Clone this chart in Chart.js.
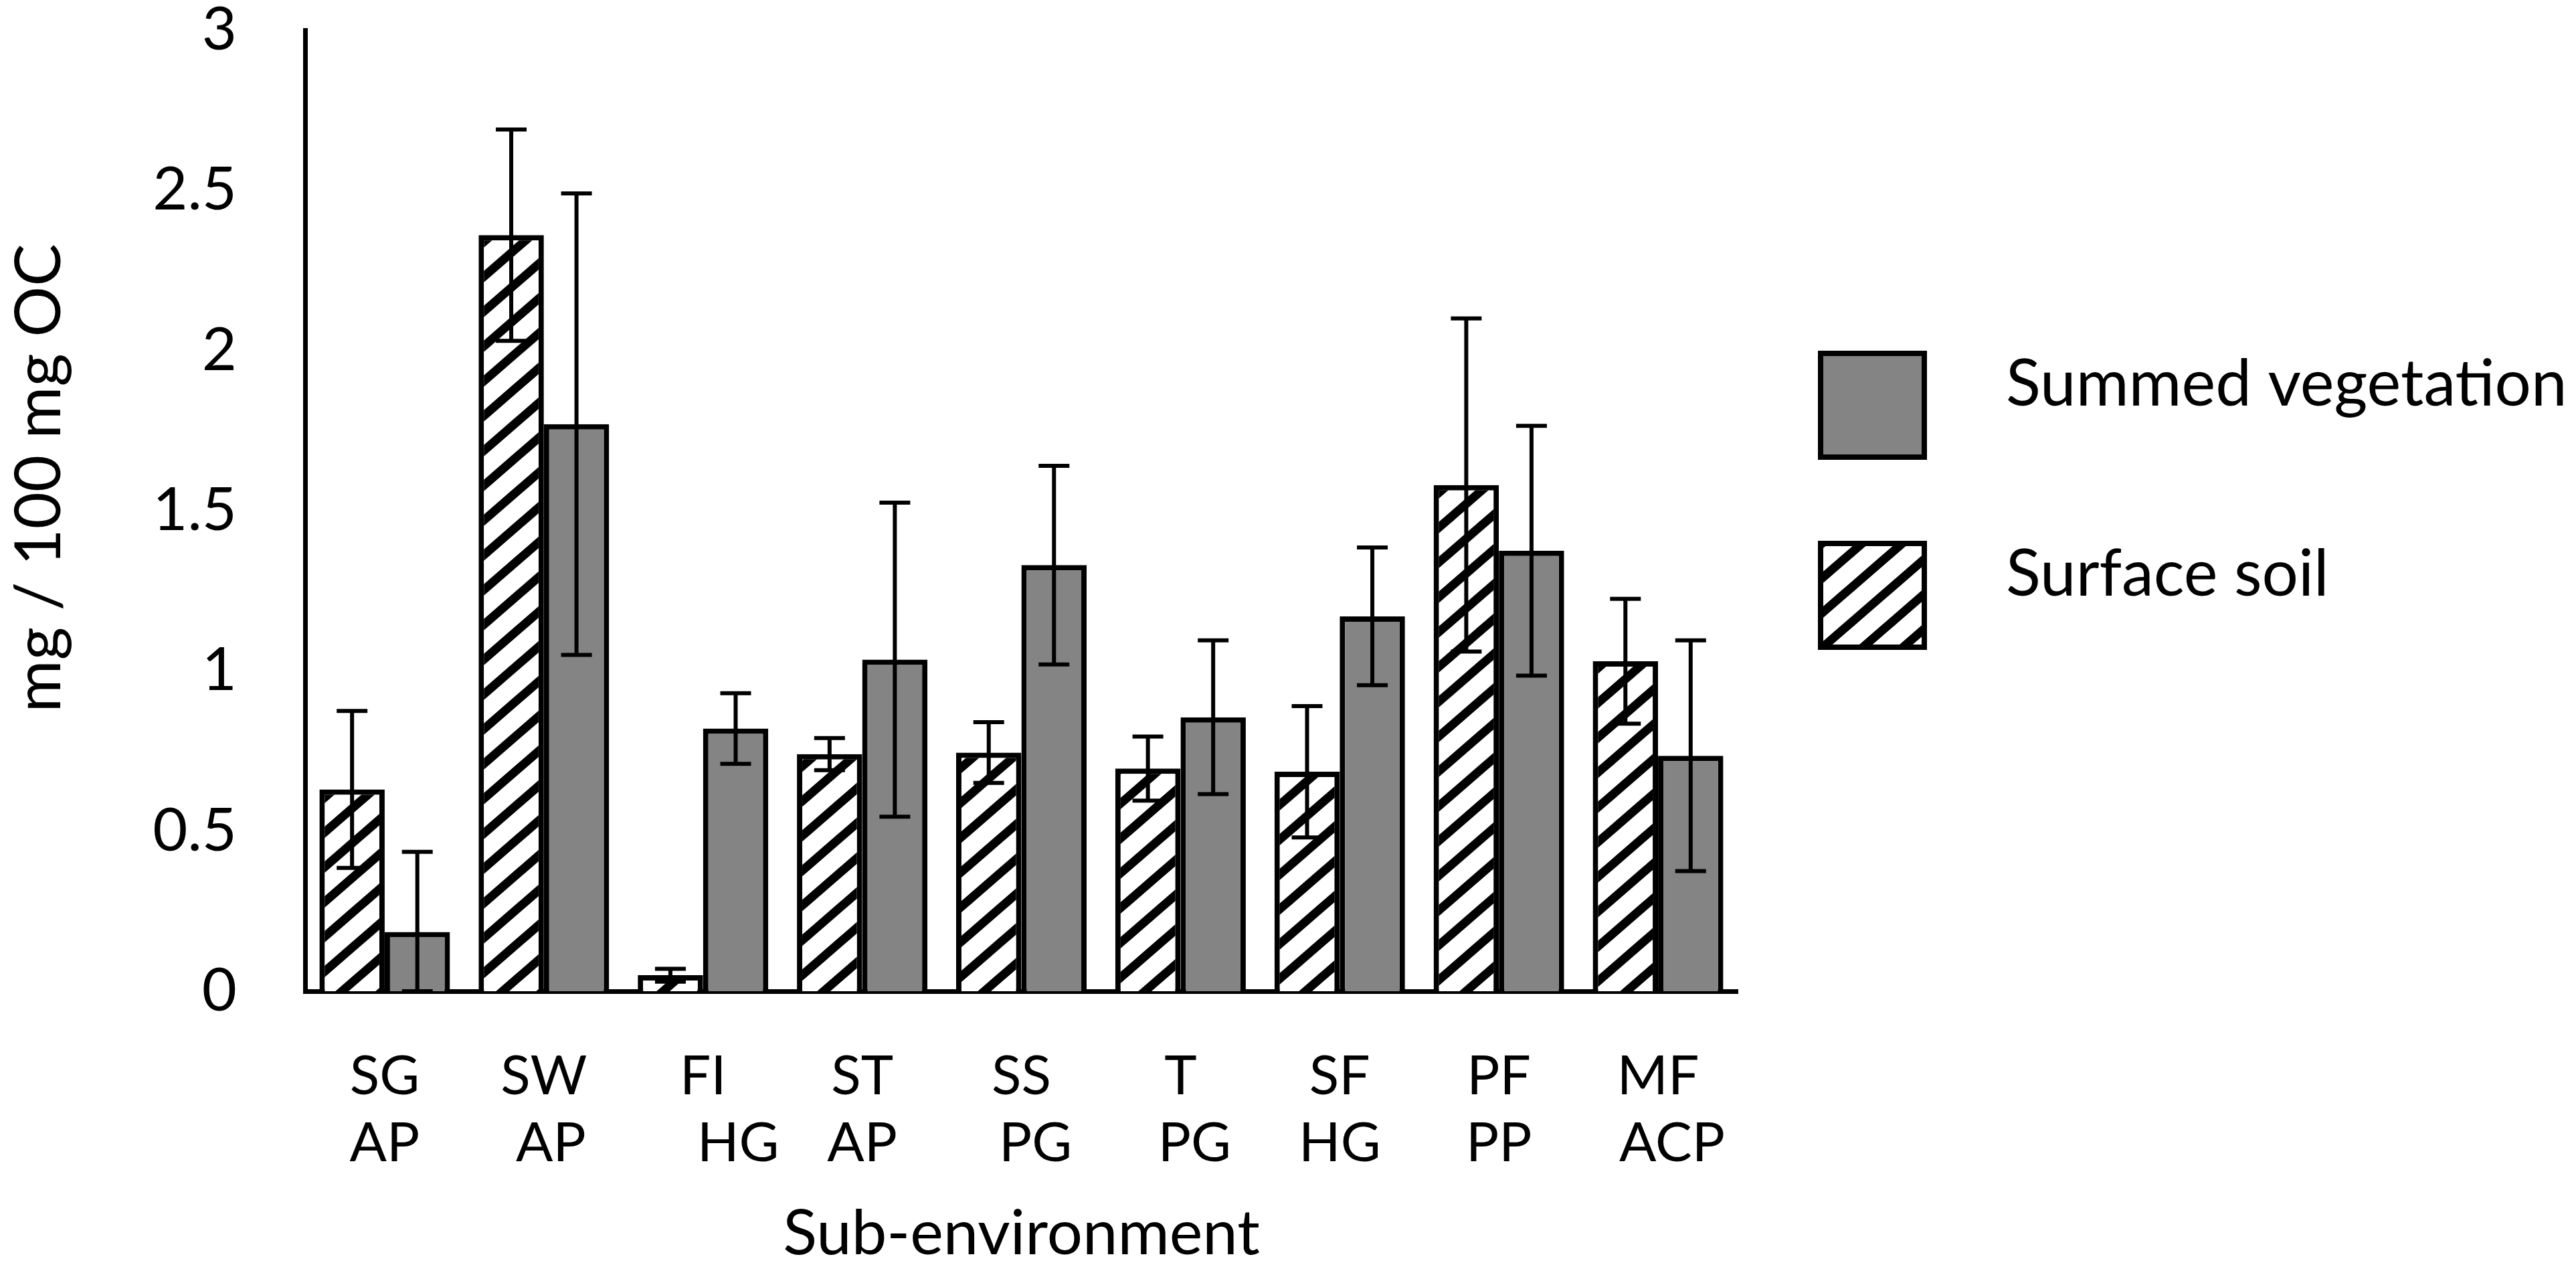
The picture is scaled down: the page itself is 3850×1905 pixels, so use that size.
<!DOCTYPE html>
<html><head><meta charset="utf-8">
<script src="https://cdn.jsdelivr.net/npm/chart.js@4.4.1/dist/chart.umd.min.js"></script>
<style>html,body{margin:0;padding:0;background:#fff;}#wrap{width:3850px;height:1905px;position:relative;background:#fff;}</style>
</head><body><div id="wrap"><canvas id="c" width="3850" height="1905"></canvas></div>
<script>
// ---- data ----
const categories = [["SG","AP"],["SW"," AP"],["FI","     HG"],["ST","AP"],["SS","  PG"],["T","  PG"],["SF","HG"],["PF","PP"],["MF","  ACP"]];
const surfaceSoil = [0.63, 2.36, 0.05, 0.74, 0.745, 0.695, 0.685, 1.58, 1.03];
const surfaceSoilErr = [0.245, 0.33, 0.02, 0.05, 0.095, 0.10, 0.205, 0.52, 0.195];
const summedVegetation = [0.185, 1.77, 0.82, 1.035, 1.33, 0.855, 1.17, 1.375, 0.735];
const summedVegetationErr = [0.25, 0.72, 0.11, 0.49, 0.31, 0.24, 0.215, 0.39, 0.36];
const yTicks = [0, 0.5, 1, 1.5, 2, 2.5, 3];
const yTitle = "    mg / 100 mg OC";
const xTitle = "Sub-environment";

const FONT = "Lato";
Chart.defaults.color = "#000";
Chart.defaults.font.family = FONT;

function hatchPattern() {
  const W = 60, H = 52;
  const c = document.createElement("canvas");
  c.width = W; c.height = H;
  const g = c.getContext("2d");
  g.fillStyle = "#fff"; g.fillRect(0, 0, W, H);
  g.strokeStyle = "#000"; g.lineWidth = 13;
  for (let k = -2; k <= 2; k++) {
    g.beginPath();
    g.moveTo(-W, 2 * H + k * H);
    g.lineTo(2 * W, -H + k * H);
    g.stroke();
  }
  return g.createPattern(c, "repeat");
}
const GRAY = "#848484";

const errorBars = {
  id: "errorBars",
  afterDatasetsDraw(chart) {
    const ctx = chart.ctx, ys = chart.scales.y;
    ctx.save();
    ctx.strokeStyle = "#000";
    ctx.lineWidth = 6;
    ctx.lineCap = "butt";
    const half = 23;
    chart.data.datasets.forEach((ds, i) => {
      const meta = chart.getDatasetMeta(i);
      meta.data.forEach((bar, j) => {
        const v = ds.data[j], e = ds.errors[j];
        const x = bar.x;
        const t = ys.getPixelForValue(v + e), b = ys.getPixelForValue(Math.max(0, v - e));
        ctx.beginPath();
        ctx.moveTo(x, t); ctx.lineTo(x, b);
        ctx.moveTo(x - half, t); ctx.lineTo(x + half, t);
        ctx.moveTo(x - half, b); ctx.lineTo(x + half, b);
        ctx.stroke();
      });
    });
    ctx.restore();
  }
};

const sideLegend = {
  id: "sideLegend",
  afterDraw(chart) {
    const ctx = chart.ctx;
    const order = [1, 0];
    const boxLeft = 2717, boxSize = 163, firstTop = 524, step = 284, textX = 2998;
    ctx.save();
    order.forEach((di, k) => {
      const ds = chart.data.datasets[di];
      const top = firstTop + k * step;
      ctx.fillStyle = ds.backgroundColor;
      ctx.fillRect(boxLeft, top, boxSize, boxSize);
      ctx.strokeStyle = "#000"; ctx.lineWidth = 8;
      ctx.strokeRect(boxLeft + 4, top + 4, boxSize - 8, boxSize - 8);
      ctx.fillStyle = "#000";
      ctx.font = "96px " + FONT;
      ctx.textBaseline = "alphabetic";
      ctx.textAlign = "left";
      ctx.fillText(ds.label, textX, top + 82);
    });
    ctx.restore();
  }
};

const hatch = hatchPattern();
new Chart(document.getElementById("c"), {
  type: "bar",
  data: {
    labels: categories,
    datasets: [
      { label: "Surface soil", data: surfaceSoil, errors: surfaceSoilErr, backgroundColor: hatch,
        borderColor: "#000", borderWidth: 8, borderSkipped: "start" },
      { label: "Summed vegetation", data: summedVegetation, errors: summedVegetationErr, backgroundColor: GRAY,
        borderColor: "#000", borderWidth: 8, borderSkipped: "start" }
    ]
  },
  options: {
    responsive: false,
    devicePixelRatio: 1,
    animation: false,
    layout: { padding: { top: 45, right: 1253, left: 0, bottom: 0 } },
    datasets: { bar: { categoryPercentage: 0.82, barPercentage: 1.0 } },
    plugins: { legend: { display: false }, tooltip: { enabled: false } },
    scales: {
      x: {
        grid: { display: false, drawTicks: false },
        border: { display: true, color: "#000", width: 7 },
        ticks: { font: { size: 82, lineHeight: 1.22 }, color: "#000", padding: 78, maxRotation: 0, autoSkip: false },
        title: { display: true, text: xTitle, font: { size: 94 }, color: "#000", padding: { top: 0, bottom: 5 } },
        afterFit(s) { s.height = 424; s.paddingLeft = 0; s.paddingRight = 0; }
      },
      y: {
        min: 0, max: 3,
        grid: { display: false, drawTicks: false },
        border: { display: true, color: "#000", width: 7 },
        afterBuildTicks(s) { s.ticks = yTicks.map(v => ({ value: v })); },
        ticks: { font: { size: 90 }, color: "#000", padding: 102, callback: v => String(v) },
        title: { display: true, text: yTitle, font: { size: 95 }, color: "#000", padding: { top: 2, bottom: 0 } },
        afterFit(s) { s.width = 456; s.paddingTop = 0; s.paddingBottom = 0; }
      }
    }
  },
  plugins: [errorBars, sideLegend]
});
</script></body></html>
